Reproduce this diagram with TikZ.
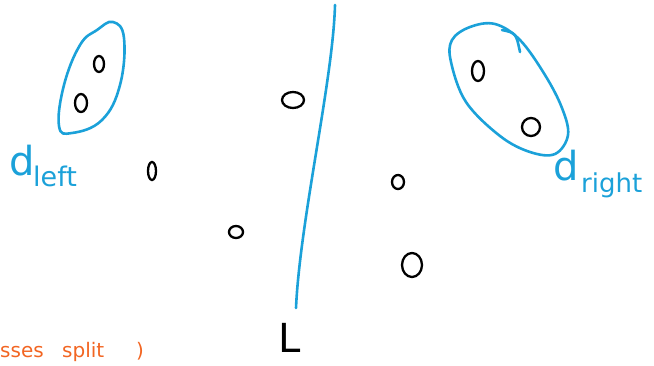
\documentclass[tikz,border=0pt]{standalone}
\usepackage{fontspec}
\setmainfont{DejaVu Sans}
\definecolor{penblue}{HTML}{1BA1D9}
\definecolor{penorange}{HTML}{F26522}
\begin{document}
\begin{tikzpicture}[x=1pt,y=-1pt,
  blob/.style={draw=penblue,line width=2.6pt,line cap=round},
  lab/.style={text=penblue,inner sep=0pt,anchor=base west},
  otext/.style={text=penorange,inner sep=0pt,anchor=base west,font=\fontsize{20}{20}\selectfont},
  ink/.style={line width=2.3pt,line cap=round}]
\useasboundingbox (0,0) rectangle (654,365);
% points
\draw[ink] (99,64) ellipse [x radius=5, y radius=8];
\draw[ink] (81,103) ellipse [x radius=6, y radius=9];
\draw[ink] (293,100) ellipse [x radius=11, y radius=8];
\draw[ink] (152,171) ellipse [x radius=4, y radius=9];
\draw[ink] (236,232) ellipse [x radius=7, y radius=6];
\draw[ink] (398,182) ellipse [x radius=6, y radius=7];
\draw[ink] (412,265) ellipse [x radius=10, y radius=12];
\draw[ink] (478,71) ellipse [x radius=6, y radius=10];
\draw[ink] (531,127) ellipse [x radius=9, y radius=9];
% blobs
\draw[blob] plot[smooth cycle,tension=0.7] coordinates {(113,22) (124,38) (120,85) (102,120) (72,133) (59,126) (64,85) (80,45) (97,30)};
\draw[blob] plot[smooth cycle,tension=0.6] coordinates {(470,27) (495,24) (520,40) (545,75) (562,108) (568,135) (555,154) (530,152) (500,136) (466,102) (451,62) (452,40)};
\draw[blob] (502,30) .. controls (516,33) .. (520,52);
% divider
\coordinate (top) at (335,5);
\coordinate (bot) at (296,308);
\draw[blob] (top) .. controls (333,80) and (300,220) .. (bot);
% labels
\node[lab,font=\fontsize{40}{40}\selectfont] (dl) at (9,175) {d};
\node[lab,font=\fontsize{27}{27}\selectfont] (left) at (33,186) {left};
\node[lab,font=\fontsize{40}{40}\selectfont] (dr) at (553,180) {d};
\node[lab,font=\fontsize{26}{26}\selectfont] (right) at (581,192) {right};
\node[inner sep=0pt,anchor=base west,font=\fontsize{40}{40}\selectfont] (L) at (278,352) {L};
\node[otext] (o1) at (0,357) {sses};
\node[otext] (o2) at (62,357) {split};
\node[otext] (o3) at (136,357) {)};
\end{tikzpicture}
\end{document}
